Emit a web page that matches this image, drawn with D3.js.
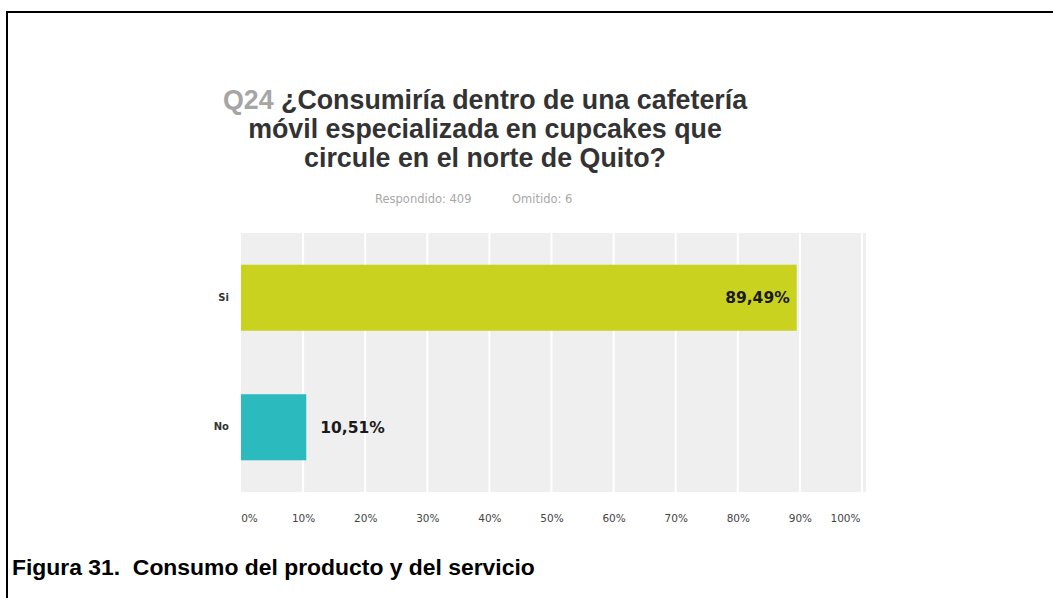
<!DOCTYPE html>
<html>
<head>
<meta charset="utf-8">
<script src="https://cdn.jsdelivr.net/npm/d3@7"></script>
<style>
  html, body { margin: 0; padding: 0; background: #fff; }
  svg { display: block; }
</style>
</head>
<body>
<svg id="chart" width="1053" height="598"></svg>
<script>
// Answer options and share of respondents (%)
const categories = ["Si", "No"];
const values = [89.49, 10.51];
const valueLabels = ["89,49%", "10,51%"];
const barColors = ["#c9d21f", "#2bbbbe"];
const tickValues = [0, 10, 20, 30, 40, 50, 60, 70, 80, 90, 100];
const tickLabels = ["0%", "10%", "20%", "30%", "40%", "50%", "60%", "70%", "80%", "90%", "100%"];
const titleLines = [
  ["Q24 ", "¿Consumiría dentro de una cafetería"],
  ["", "móvil especializada en cupcakes que"],
  ["", "circule en el norte de Quito?"]
];
const answeredText = "Respondido: 409";
const skippedText = "Omitido: 6";
const caption = "Figura 31.  Consumo del producto y del servicio";

const svg = d3.select("#chart");

// Frame lines (top and left edge of the figure box)
svg.append("line").attr("x1", 6).attr("x2", 1053).attr("y1", 12).attr("y2", 12)
  .attr("stroke", "#000").attr("stroke-width", 2);
svg.append("line").attr("x1", 7).attr("x2", 7).attr("y1", 11).attr("y2", 598)
  .attr("stroke", "#000").attr("stroke-width", 2);

// Title
const title = svg.append("text")
  .attr("text-anchor", "middle")
  .style("font-family", "'Liberation Sans', Arial, sans-serif")
  .style("font-size", "26.8px")
  .style("font-weight", "bold");
titleLines.forEach((ln, i) => {
  const t = title.append("tspan").attr("x", 485).attr("y", 109 + i * 29);
  if (ln[0]) t.append("tspan").attr("fill", "#a5a5a5").text(ln[0]);
  t.append("tspan").attr("fill", "#333").text(ln[1]);
});

// Answered / skipped counts
const sub = svg.append("g")
  .attr("fill", "#a8a8a8")
  .style("font-family", "'DejaVu Sans', Verdana, sans-serif")
  .style("font-size", "11.5px");
sub.append("text").attr("x", 375).attr("y", 203).text(answeredText);
sub.append("text").attr("x", 512).attr("y", 203).text(skippedText);

// Plot area
const plot = { left: 241, right: 866, top: 233, bottom: 492 };
const x = d3.scaleLinear().domain([0, 100]).range([plot.left, 862]);
const y = d3.scaleBand().domain(categories).range([plot.top, plot.bottom])
  .paddingInner(0.49).paddingOuter(0.245);

svg.append("rect")
  .attr("x", plot.left).attr("y", plot.top)
  .attr("width", plot.right - plot.left).attr("height", plot.bottom - plot.top)
  .attr("fill", "#efefef");

svg.append("g").selectAll("line")
  .data(tickValues.slice(1))
  .join("line")
  .attr("x1", d => x(d)).attr("x2", d => x(d))
  .attr("y1", plot.top).attr("y2", plot.bottom)
  .attr("stroke", "#fff").attr("stroke-width", 2);

// Bars
svg.append("g").selectAll("rect")
  .data(categories)
  .join("rect")
  .attr("x", x(0))
  .attr("y", d => y(d))
  .attr("width", (d, i) => x(values[i]) - x(0))
  .attr("height", y.bandwidth())
  .attr("fill", (d, i) => barColors[i]);

// Value labels: inside the long bar, beside the short bar
svg.append("g").selectAll("text")
  .data(categories)
  .join("text")
  .attr("x", (d, i) => values[i] > 50 ? x(values[i]) - 7 : x(values[i]) + 14)
  .attr("y", d => y(d) + y.bandwidth() / 2)
  .attr("dy", "0.36em")
  .attr("text-anchor", (d, i) => values[i] > 50 ? "end" : "start")
  .attr("fill", "#1a1a1a")
  .style("font-family", "'DejaVu Sans', Verdana, sans-serif")
  .style("font-size", "15.5px")
  .style("font-weight", "bold")
  .text((d, i) => valueLabels[i]);

// Category axis
const yAxis = svg.append("g")
  .attr("transform", `translate(${plot.left},0)`)
  .call(d3.axisLeft(y).tickSize(0).tickPadding(12));
yAxis.select(".domain").remove();
yAxis.selectAll("text")
  .attr("fill", "#333")
  .style("font-family", "'DejaVu Sans', Verdana, sans-serif")
  .style("font-size", "10px")
  .style("font-weight", "bold");

// Percentage axis
const xAxis = svg.append("g")
  .attr("transform", `translate(0,${plot.bottom})`)
  .call(d3.axisBottom(x).tickValues(tickValues)
    .tickFormat((d, i) => tickLabels[i]).tickSize(0).tickPadding(23));
xAxis.select(".domain").remove();
xAxis.selectAll("text")
  .attr("fill", "#444")
  .style("font-family", "'DejaVu Sans', Verdana, sans-serif")
  .style("font-size", "10.5px");
xAxis.selectAll(".tick").filter(d => d === 0).select("text").attr("dx", 8);
xAxis.selectAll(".tick").filter(d => d === 100).select("text").attr("dx", -17);

// Figure caption
svg.append("text")
  .attr("x", 12).attr("y", 575)
  .attr("fill", "#000")
  .style("font-family", "'Liberation Sans', Arial, sans-serif")
  .style("font-size", "22.9px")
  .style("font-weight", "bold")
  .style("white-space", "pre")
  .text(caption);
</script>
</body>
</html>
